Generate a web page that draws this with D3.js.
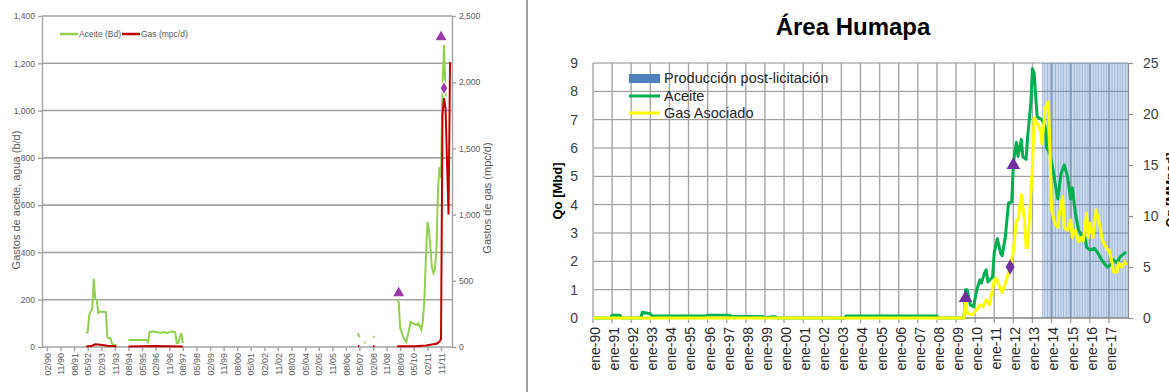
<!DOCTYPE html>
<html>
<head>
<meta charset="utf-8">
<script src="https://cdn.jsdelivr.net/npm/d3@7"></script>
<style>
body { margin: 0; background: #fff; }
svg { display: block; font-family: "Liberation Sans", Arial, sans-serif; }
</style>
</head>
<body>
<svg class="chart"></svg>
<script>
var width = 1169, height = 392;

// ---- panel izquierdo: historia del campo ----
var histEtiquetas = ["02/90","11/90","08/91","05/92","02/93","11/93","08/94","05/95","02/96","11/96",
    "08/97","05/98","02/99","11/99","08/00","05/01","02/02","11/02","08/03","05/04",
    "02/05","11/05","08/06","05/07","02/08","11/08","08/09","05/10","02/11","11/11"];
var histTicksAceite = [0, 200, 400, 600, 800, 1000, 1200, 1400];
var histTicksGas = [0, 500, 1000, 1500, 2000, 2500];

// aceite (b/d), null = hueco en la serie
var histAceiteMes = ["1992-04","1992-05","1992-06","1992-07","1992-08","1992-09","1992-10","1992-11","1992-12",
    "1993-01","1993-02","1993-03","1993-04","1993-05","1993-06","1993-07","1993-08","1993-09","1993-10","1993-11","1993-12",
    "1994-03",
    "1994-08","1994-12","1995-04","1995-08","1995-09","1995-10","1995-12","1996-03","1996-05","1996-07","1996-10","1996-11",
    "1997-01","1997-03","1997-04","1997-05","1997-06","1997-07","1997-08",
    "1998-01",
    "2007-04","2007-05","2007-07","2007-08","2007-09","2007-12","2008-02","2008-03","2008-06",
    "2009-06","2009-07","2009-08","2009-10","2009-12","2010-01","2010-03","2010-04","2010-07","2010-08","2010-10","2010-11","2010-12",
    "2011-01","2011-02","2011-03","2011-04","2011-05","2011-06","2011-07","2011-08","2011-09","2011-10","2011-11","2011-12",
    "2012-01","2012-02"];
var histAceite = [59,62,135,150,160,288,205,199,144,
    150,148,150,148,148,42,38,38,17,8,8,8,
    null,
    30,30,30,30,21,63,65,63,59,63,59,63,
    65,63,17,17,40,59,17,
    null,
    59,42,null,20,18,null,45,42,null,
    200,190,80,42,21,51,106,101,93,101,72,114,200,
    381,529,500,420,338,313,330,410,664,761,715,1100,
    1277,1060];

// gas (mpc/d)
var histGasMes = ["1992-04","1992-08","1992-10","1993-03","1993-06","1993-12","1994-03",
    "1994-08","1996-01","1997-08","1998-01",
    "2007-04","2007-05","2007-09","2008-02","2008-03","2008-06",
    "2009-06","2010-06","2011-01","2011-08","2011-10","2011-11","2011-12",
    "2012-01","2012-02","2012-03","2012-04","2012-05"];
var histGas = [3,10,20,15,10,5,null,
    3,8,3,null,
    8,8,null,8,8,null,
    5,5,12,25,40,60,1750,
    1880,1800,1400,1000,2150];

var histTriMes = ["2009-07","2011-11"], histTriVal = [228, 1311];
var histRomboMes = ["2012-01"], histRomboVal = [1095];

// ---- panel derecho: Área Humapa ----
var humapaAnios = ["ene-90","ene-91","ene-92","ene-93","ene-94","ene-95","ene-96","ene-97","ene-98","ene-99",
    "ene-00","ene-01","ene-02","ene-03","ene-04","ene-05","ene-06","ene-07","ene-08","ene-09",
    "ene-10","ene-11","ene-12","ene-13","ene-14","ene-15","ene-16","ene-17"];
var humapaTicksQo = [0,1,2,3,4,5,6,7,8,9];
var humapaTicksQg = [0,5,10,15,20,25];

var aceiteMes = ["1990-01","1990-12","1991-01","1991-06","1991-07","1992-07","1992-08","1993-01","1993-02","1995-12",
    "1996-01","1997-03","1997-04","1998-12","1999-01","1999-05","1999-08","1999-09","2003-03","2003-04",
    "2008-01","2008-02","2009-06","2009-07","2009-08","2009-10","2009-12","2010-02","2010-04","2010-05",
    "2010-07","2010-08","2010-09","2010-12","2011-01","2011-03","2011-05","2011-06","2011-08","2011-10",
    "2011-12","2012-01","2012-02","2012-03","2012-04","2012-06","2012-07","2012-09","2012-10","2012-12",
    "2013-01","2013-02","2013-04","2013-07","2013-09","2013-10","2013-12","2014-02","2014-04","2014-05",
    "2014-07","2014-09","2014-11","2015-01","2015-02","2015-04","2015-06","2015-08","2015-10","2015-11",
    "2016-01","2016-04","2016-06","2016-09","2016-12","2017-02","2017-04","2017-06","2017-08","2017-11","2017-12"];
var aceiteMbd = [0,0,0.1,0.1,0,0,0.2,0.15,0.07,0.07,
    0.1,0.1,0.05,0.05,0,0.04,0.04,0,0,0.07,
    0.07,0,0,1.0,1.0,0.46,0.4,1.0,1.34,1.23,
    1.6,1.7,1.27,1.45,2.3,2.8,2.3,2.2,2.86,4.06,
    4.1,5.4,5.9,6.2,5.7,6.3,5.7,5.6,6.4,7.6,
    8.8,8.65,7.1,7.0,6.74,6.0,5.8,5.2,4.5,4.2,
    5.1,5.4,5.0,4.2,4.6,3.7,3.1,2.9,2.86,2.5,
    2.4,2.46,2.3,2.0,1.8,1.87,2.05,1.94,2.15,2.3,2.3];

var gasMes = ["1990-01","2009-06","2009-07","2009-08","2009-11","2010-02","2010-04","2010-06","2010-08","2010-10",
    "2011-01","2011-02","2011-06","2011-08","2011-11","2012-01","2012-03","2012-04","2012-06","2012-08",
    "2012-09","2012-10","2013-01","2013-02","2013-04","2013-06","2013-07","2013-08","2013-09","2013-11",
    "2013-12","2014-01","2014-03","2014-05","2014-06","2014-08","2014-09","2014-11","2015-01","2015-02",
    "2015-04","2015-06","2015-08","2015-09","2015-11","2015-12","2016-01","2016-03","2016-04","2016-05",
    "2016-07","2016-09","2016-11","2016-12","2017-01","2017-03","2017-04","2017-06","2017-07","2017-09",
    "2017-11","2017-12"];
var gasMMpcd = [0,0,2.0,0.5,0.3,0.8,1.3,1.1,1.8,1.3,
    3.7,3.9,2.5,3.4,5.0,6.5,9.6,9.6,12.1,9.6,
    6.9,6.9,14.8,19.6,19.1,18.4,17.1,18.7,20.6,21.2,
    16.5,10.6,9.3,8.9,10.3,11.9,8.9,8.6,9.6,7.9,
    8.6,7.5,7.9,7.6,10.3,7.9,9.3,7.9,9.3,10.6,
    9.3,7.6,7.0,6.7,6.7,5.5,4.5,4.5,5.4,5.0,
    5.5,5.2];

var postInicio = "2013-07", postFin = "2018-01";   // producción post-licitación
var humTriMes = ["2009-07","2012-01"], humTriVal = [0.7, 5.4];
var humRomboMes = ["2011-11"], humRomboVal = [1.8];

var parseMes = d3.timeParse("%Y-%m");
var parseEtiq = d3.timeParse("%m/%y");

var chart = d3.select(".chart")
    .attr("width", width)
    .attr("height", height);

chart.append("rect").attr("width", width).attr("height", height).attr("fill", "#fff");

// separador entre los dos paneles
chart.append("line")
    .attr("x1", 527).attr("x2", 527).attr("y1", 0).attr("y2", height)
    .attr("stroke", "#7f7f7f").attr("stroke-width", 1.5);

function pares(meses, valores) {
    return meses.map(function(m, i) { return {t: parseMes(m), v: valores[i]}; });
}

// ================= panel izquierdo =================
var left = chart.append("g");
var hx = d3.scaleTime()
    .domain([parseEtiq("02/90"), parseEtiq("11/11")])
    .range([47, 441]);
var hyA = d3.scaleLinear().domain([0, 1400]).range([347, 16]);
var hyG = d3.scaleLinear().domain([0, 2500]).range([347, 16]);

left.selectAll(".hgrid")
    .data(histTicksAceite.slice(1))
    .enter().append("line")
    .attr("x1", 42).attr("x2", 452)
    .attr("y1", function(d) { return hyA(d); })
    .attr("y2", function(d) { return hyA(d); })
    .attr("stroke", "#a3a3a3").attr("stroke-width", 1.6);

var hAxisL = left.append("g")
    .attr("transform", "translate(42,0)")
    .call(d3.axisLeft(hyA).tickValues(histTicksAceite).tickFormat(d3.format(",")).tickSize(4).tickSizeOuter(0));
var hAxisR = left.append("g")
    .attr("transform", "translate(452,0)")
    .call(d3.axisRight(hyG).tickValues(histTicksGas).tickFormat(d3.format(",")).tickSize(4).tickSizeOuter(0));
var hAxisB = left.append("g")
    .attr("transform", "translate(0,347)")
    .call(d3.axisBottom(hx)
        .tickValues(histEtiquetas.map(function(s) { return parseEtiq(s); }))
        .tickFormat(function(d, i) { return histEtiquetas[i]; })
        .tickSize(4).tickSizeOuter(0));
hAxisB.select(".domain").remove();
left.append("line")
    .attr("x1", 42).attr("x2", 452).attr("y1", 347).attr("y2", 347)
    .attr("stroke", "#a3a3a3").attr("stroke-width", 1.6);

[hAxisL, hAxisR, hAxisB].forEach(function(a) {
    a.selectAll(".domain, line").attr("stroke", "#a3a3a3").attr("stroke-width", 1.4);
    a.selectAll("text").attr("fill", "#595959").attr("font-size", 8.5);
});
hAxisB.selectAll("text")
    .attr("font-size", 9)
    .attr("text-anchor", "end")
    .attr("transform", "translate(0,6) rotate(-90)")
    .attr("x", 0).attr("y", 0).attr("dy", "0.35em");

left.append("text")
    .attr("transform", "translate(20,200) rotate(-90)")
    .attr("text-anchor", "middle")
    .attr("fill", "#595959").attr("font-size", 11)
    .text("Gastos de aceite, agua (b/d)");
left.append("text")
    .attr("transform", "translate(491,198) rotate(-90)")
    .attr("text-anchor", "middle")
    .attr("fill", "#595959").attr("font-size", 11)
    .text("Gastos de gas (mpc/d)");

var hLineA = d3.line().defined(function(d) { return d.v != null; })
    .x(function(d) { return hx(d.t); }).y(function(d) { return hyA(d.v); });
var hLineG = d3.line().defined(function(d) { return d.v != null; })
    .x(function(d) { return hx(d.t); }).y(function(d) { return hyG(d.v); });

left.append("path")
    .datum(pares(histAceiteMes, histAceite))
    .attr("d", hLineA)
    .attr("fill", "none").attr("stroke", "#92d050").attr("stroke-width", 2);
left.append("path")
    .datum(pares(histGasMes, histGas))
    .attr("d", hLineG)
    .attr("fill", "none").attr("stroke", "#c00000").attr("stroke-width", 2);

left.selectAll(".htri")
    .data(pares(histTriMes, histTriVal))
    .enter().append("path")
    .attr("d", d3.symbol(d3.symbolTriangle, 75))
    .attr("transform", function(d) { return "translate(" + hx(d.t) + "," + hyA(d.v) + ")"; })
    .attr("fill", "#9b3aa6").attr("stroke", "#fff").attr("stroke-width", 1.2);
left.selectAll(".hrombo")
    .data(pares(histRomboMes, histRomboVal))
    .enter().append("path")
    .attr("d", d3.symbol(d3.symbolDiamond, 55))
    .attr("transform", function(d) { return "translate(" + hx(d.t) + "," + hyA(d.v) + ")"; })
    .attr("fill", "#9b3aa6").attr("stroke", "#fff").attr("stroke-width", 1.2);

// leyenda
var hLeg = left.append("g").attr("font-size", 8.5).attr("fill", "#595959");
hLeg.append("line").attr("x1", 60).attr("x2", 78).attr("y1", 34).attr("y2", 34)
    .attr("stroke", "#92d050").attr("stroke-width", 2.5);
hLeg.append("text").attr("x", 79).attr("y", 34).attr("dy", "0.35em").text("Aceite (Bd)");
hLeg.append("line").attr("x1", 122).attr("x2", 140).attr("y1", 34).attr("y2", 34)
    .attr("stroke", "#c00000").attr("stroke-width", 2.5);
hLeg.append("text").attr("x", 141).attr("y", 34).attr("dy", "0.35em").text("Gas (mpc/d)");

// ================= panel derecho =================
var right = chart.append("g");
var rx = d3.scaleTime().domain([parseMes("1990-01"), parseMes("2018-01")]).range([593, 1128]);
var ryA = d3.scaleLinear().domain([0, 9]).range([318, 63]);
var ryG = d3.scaleLinear().domain([0, 25]).range([318, 63]);
var anioFecha = function(s) { return new Date(2000 + (+s.slice(4) > 50 ? -100 : 0) + +s.slice(4), 0, 1); };

right.append("text")
    .attr("x", 853).attr("y", 35)
    .attr("text-anchor", "middle")
    .attr("font-size", 24).attr("font-weight", "bold").attr("fill", "#000")
    .text("Área Humapa");

right.selectAll(".rgridh")
    .data(humapaTicksQo.slice(1))
    .enter().append("line")
    .attr("x1", 593).attr("x2", 1128)
    .attr("y1", function(d) { return ryA(d); })
    .attr("y2", function(d) { return ryA(d); })
    .attr("stroke", "#8c8c8c").attr("stroke-width", 1);
right.selectAll(".rgridv")
    .data(humapaAnios)
    .enter().append("line")
    .attr("x1", function(d) { return rx(anioFecha(d)); })
    .attr("x2", function(d) { return rx(anioFecha(d)); })
    .attr("y1", 63).attr("y2", 323)
    .attr("stroke", "#a6a6a6").attr("stroke-width", 1.4);

// barras de producción post-licitación
var mesesPost = d3.timeMonth.range(parseMes(postInicio), parseMes(postFin));
right.selectAll(".post")
    .data(mesesPost)
    .enter().append("rect")
    .attr("x", function(d) { return rx(d) + 0.2; })
    .attr("width", function(d) { return (rx(d3.timeMonth.offset(d, 1)) - rx(d)) * 0.7; })
    .attr("y", ryA(9))
    .attr("height", ryA(0) - ryA(9))
    .attr("fill", "#4f81bd").attr("fill-opacity", 0.55);

var rAxisL = right.append("g")
    .attr("transform", "translate(593,0)")
    .call(d3.axisLeft(ryA).tickValues(humapaTicksQo).tickSize(0).tickPadding(15));
var rAxisR = right.append("g")
    .attr("transform", "translate(1128,0)")
    .call(d3.axisRight(ryG).tickValues(humapaTicksQg).tickSize(5).tickPadding(10).tickSizeOuter(0));
rAxisL.select(".domain").attr("stroke", "#bfbfbf").attr("stroke-width", 1.4);
rAxisR.selectAll(".domain, line").attr("stroke", "#8c8c8c").attr("stroke-width", 1.2);
[rAxisL, rAxisR].forEach(function(a) {
    a.selectAll("text").attr("font-size", 14).attr("fill", "#404040").attr("font-family", "Liberation Sans, Arial, sans-serif");
});
right.append("line")
    .attr("x1", 593).attr("x2", 1128).attr("y1", 318).attr("y2", 318)
    .attr("stroke", "#868686").attr("stroke-width", 1.4);

right.selectAll(".anio")
    .data(humapaAnios)
    .enter().append("text")
    .attr("transform", function(d) { return "translate(" + (rx(anioFecha(d)) + 2) + ",327) rotate(-90)"; })
    .attr("text-anchor", "end")
    .attr("dy", "0.35em")
    .attr("font-size", 14).attr("fill", "#262626")
    .text(function(d) { return d; });

right.append("text")
    .attr("transform", "translate(562,191) rotate(-90)")
    .attr("text-anchor", "middle")
    .attr("font-size", 13).attr("font-weight", "bold")
    .text("Qo [Mbd]");
// el rótulo del eje secundario queda recortado por el borde, como en el original
right.append("text")
    .attr("transform", "translate(1175,190) rotate(-90)")
    .attr("text-anchor", "middle")
    .attr("font-size", 13).attr("font-weight", "bold")
    .text("Qg [MMpcd]");

var rLineA = d3.line().x(function(d) { return rx(d.t); }).y(function(d) { return ryA(d.v); });
var rLineG = d3.line().x(function(d) { return rx(d.t); }).y(function(d) { return ryG(d.v); });
right.append("path")
    .datum(pares(aceiteMes, aceiteMbd))
    .attr("d", rLineA)
    .attr("fill", "none").attr("stroke", "#00b050").attr("stroke-width", 3)
    .attr("stroke-linejoin", "round");
right.append("path")
    .datum(pares(gasMes, gasMMpcd))
    .attr("d", rLineG)
    .attr("fill", "none").attr("stroke", "#ffff00").attr("stroke-width", 3)
    .attr("stroke-linejoin", "round");

right.selectAll(".rtri")
    .data(pares(humTriMes, humTriVal))
    .enter().append("path")
    .attr("d", d3.symbol(d3.symbolTriangle, 80))
    .attr("transform", function(d) { return "translate(" + rx(d.t) + "," + ryA(d.v) + ")"; })
    .attr("fill", "#7030a0");
right.selectAll(".rrombo")
    .data(pares(humRomboMes, humRomboVal))
    .enter().append("path")
    .attr("d", d3.symbol(d3.symbolDiamond, 70))
    .attr("transform", function(d) { return "translate(" + rx(d.t) + "," + ryA(d.v) + ")"; })
    .attr("fill", "#7030a0");

// leyenda
var rLeg = right.append("g").attr("font-size", 14.5).attr("fill", "#262626");
rLeg.append("rect").attr("x", 629).attr("y", 74).attr("width", 31).attr("height", 9).attr("fill", "#4f81bd");
rLeg.append("text").attr("x", 664).attr("y", 78).attr("dy", "0.35em").text("Producción post-licitación");
rLeg.append("line").attr("x1", 629).attr("x2", 660).attr("y1", 96).attr("y2", 96)
    .attr("stroke", "#00b050").attr("stroke-width", 3);
rLeg.append("text").attr("x", 664).attr("y", 96).attr("dy", "0.35em").text("Aceite");
rLeg.append("line").attr("x1", 629).attr("x2", 660).attr("y1", 113).attr("y2", 113)
    .attr("stroke", "#ffff00").attr("stroke-width", 3);
rLeg.append("text").attr("x", 664).attr("y", 113).attr("dy", "0.35em").text("Gas Asociado");
</script>
</body>
</html>
